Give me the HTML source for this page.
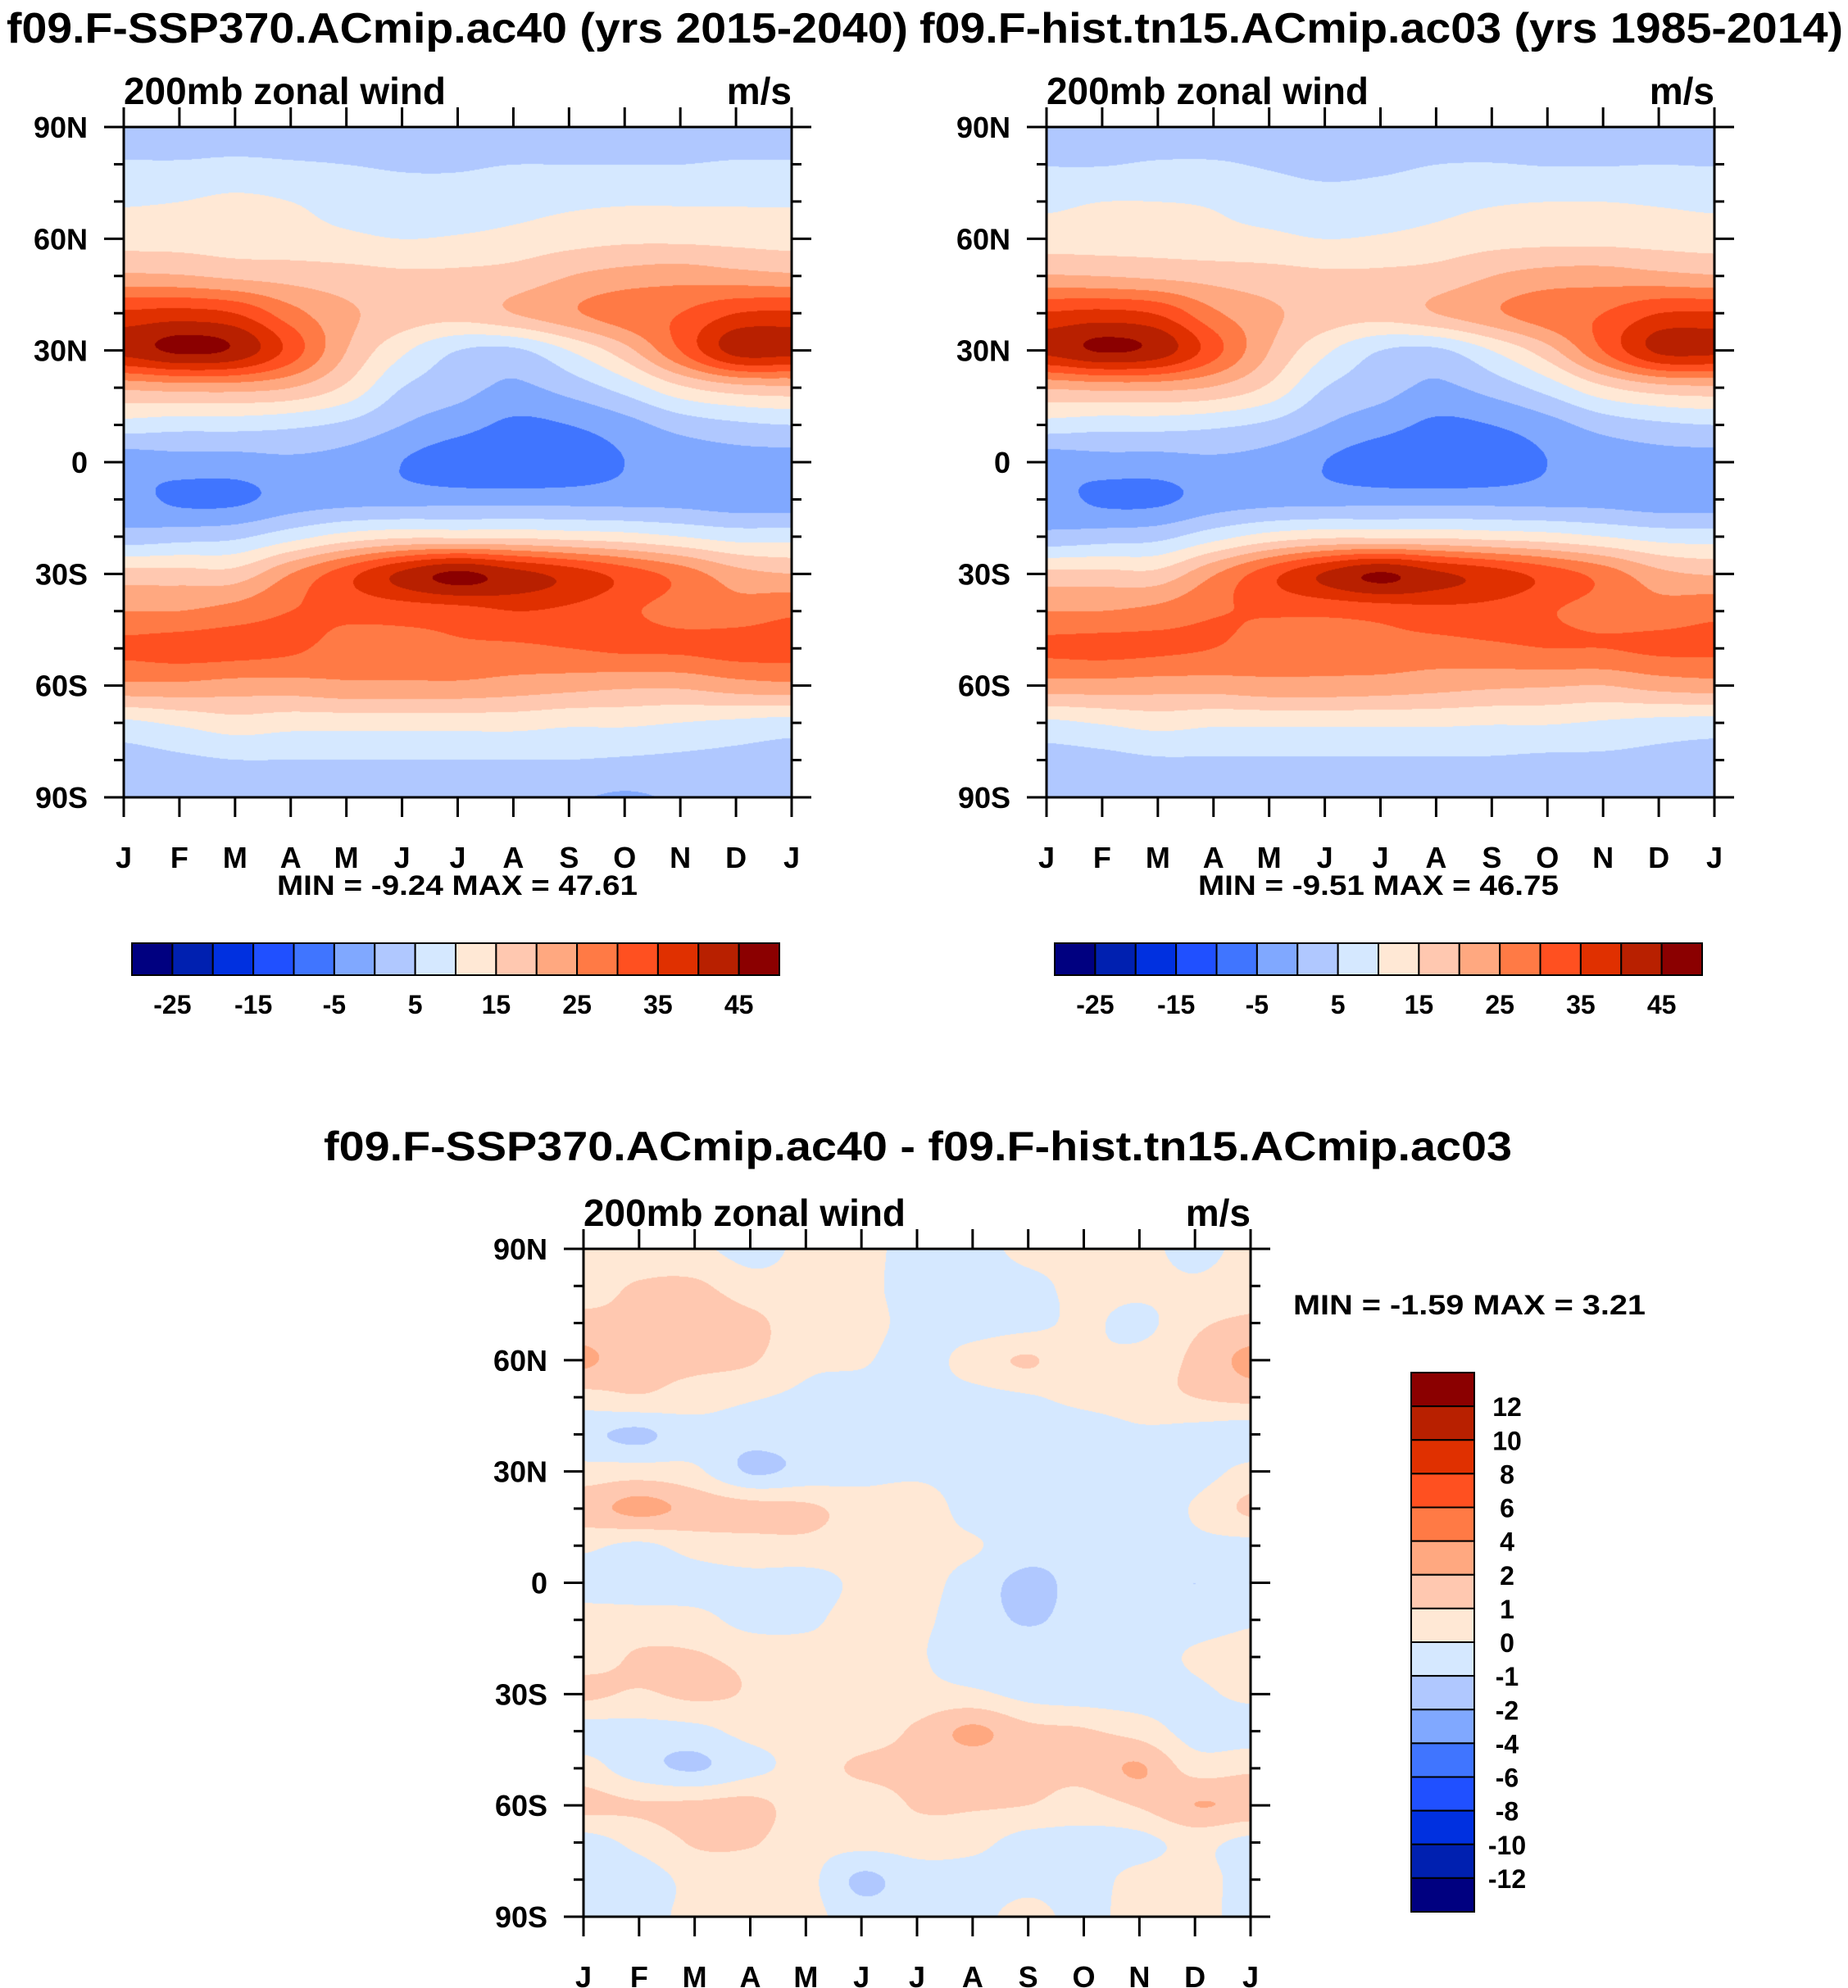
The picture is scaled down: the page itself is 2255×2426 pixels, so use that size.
<!DOCTYPE html>
<html><head><meta charset="utf-8">
<style>
html,body{margin:0;padding:0;background:#fff;}
#root{position:relative;width:2255px;height:2426px;overflow:hidden;font-family:"Liberation Sans",sans-serif;}
canvas{position:absolute;}
svg{position:absolute;left:0;top:0;}
text{font-family:"Liberation Sans",sans-serif;font-weight:bold;fill:#000;}
</style></head>
<body>
<div id="root">
<canvas id="c1"></canvas>
<canvas id="c2"></canvas>
<canvas id="c3"></canvas>
<svg id="ov" width="2255" height="2426"></svg>
</div>
<script>
const months = ["J","F","M","A","M","J","J","A","S","O","N","D","J"];
const latLabels = ["90N","60N","30N","0","30S","60S","90S"];
// rows: 90N -> 90S every 10 deg; cols: Jan..Jan
const ssp370 = [
[2,2,2,2,2,2,2,2,2,2,2,2,2],
[5.5,5.5,6,5.5,5,4.5,4.5,5,5,5,5,5.5,5.5],
[9.5,10,11,10,8,7,7,8,9,9.5,9.5,9.5,9.5],
[13,13,12.5,12,11,10,10.5,11.5,13,14,14,13.5,13],
[21,20.5,19,18,17,16,16,17,20,22,23,22,21],
[36,37,35,27,21,18,17,20,24,28,30,35,36],
[42,46,44,33,20,11,5,4,10,18,30,42,42],
[21,22,22,20,14,5,2,-1,2,7,14,18,19],
[8,7,7,6,4,0,-3,-6,-5,-2,2,4,5],
[-3,-2,-2,-1,-2,-5,-8,-9,-8,-5,-3,-2,-2],
[-3,-6,-6,-3,-2,-2,-2,-2,-2,-2,-2,-3,-3],
[2,3,4,8,12,14,14,14,13,12,10,8,8],
[17,17,17,25,33,41,46,42,38,33,28,22,20],
[25,25,27,30,31,32,33,35,34,31,28,27,29],
[31,32,32,31,28,28,29,29,30,31,31,32,32],
[24,24,23,23,24,24,24,23,22,21,21,23,24],
[9,11,13,12,12,12,12,12,11,11,10,9,8],
[3,4,5,5,5,5,5,5,5,4.5,4,3.5,3],
[1,1,1,1,1,1,1,1,0.5,-0.5,0.5,1,1]
];
const hist = [
[2,2,2,2,2,2,2,2,2,2,2,2,2],
[4.8,4.8,5.5,5.5,4.5,3.5,4,5,5.2,4.8,4.8,5,4.8],
[9,10,10,9.5,8,7,7.5,8.5,9.5,10,10,9.5,9],
[12.5,12.5,12.5,11.5,11,10,10.5,11.5,13,13.5,13.5,13,12.5],
[20.5,20,19,18,17,16,16,17,20,22,22.5,21.5,20.5],
[35.5,36.5,34.5,26,21,18,17,20,24,28,30,35,35.5],
[41.5,45.5,43,32,20,11,5,4,10,18,30,41,41.5],
[20.5,21.5,21.5,19.5,14,5,2,-1,2,7,14,18,19],
[8,7,7,6,4,0,-3,-6,-5,-2,2,4,5],
[-3,-2,-2,-1,-2,-5,-8,-9,-8,-5,-3,-2,-2],
[-3,-6,-6,-3,-2,-2,-2,-2,-2,-2,-2,-3,-3],
[1.5,2.5,3.5,8,12,14,14,14,13,12,10,8,7.5],
[16.5,16.5,16.5,24.5,33,40.5,45.5,41,37.5,33,28,21.5,19.5],
[25,25,26.5,29.5,30.5,31,32,33.5,33,30.5,28,27,28.5],
[31,31.5,31,30,27.5,27,28,28,29,30,30,31,31],
[23,23,22.5,22.5,23.5,23.5,23,22,21,20.5,20,22,23],
[9,10.5,12,11,11,11,11,11,10.5,10.5,9.5,8.5,8],
[3,3.5,4.5,4.5,4.5,4.5,4.5,4.5,4.5,4,4,3.5,3],
[1,1,1,1,1,1,1,1,0.8,0.6,0.8,1,1]
];
const diff = [
[0.3,0.3,0.2,-0.3,0.2,0.3,-0.4,-0.4,0.3,0.3,0.3,-0.3,0.3],
[0.6,1.1,1.2,0.4,0.3,0.3,-0.5,-0.6,-0.3,0.3,0.3,0.2,0.6],
[1.3,1.2,1.7,1.3,0.4,0.3,-0.3,-0.5,-0.3,0.2,-0.3,0.8,1.2],
[2.2,1.3,1.3,1.1,0.2,0.1,-0.4,0.4,1.1,0.2,0.4,1.2,2.3],
[0.6,0.9,0.5,0.1,-0.2,-0.4,-0.3,-0.3,-0.1,0.3,0.6,1.0,1.3],
[-0.8,-1.2,-0.4,-0.6,-0.5,-0.5,-0.3,-0.4,-0.6,-0.7,-0.2,-0.4,-0.6],
[0.4,0.5,0.2,-1.1,-0.7,-0.4,-0.2,-0.4,-0.2,-0.3,-0.2,-0.4,0.3],
[1.6,2.3,1.7,1.4,1.2,0.6,0.6,-0.4,-0.4,-0.5,-0.6,0.1,1.2],
[0.2,-0.2,0.4,0.6,0.7,0.4,0.3,0.1,-0.5,-0.6,-0.5,-0.3,-0.3],
[-0.4,-0.5,-0.4,-0.3,-0.4,0.2,0.3,-0.4,-1.3,-0.6,-0.5,-1.0,-0.5],
[0.4,0.4,0.3,-0.3,-0.2,0.4,0.2,-0.5,-1.1,-0.6,-0.4,-0.4,-0.1],
[0.6,1.1,1.1,0.7,0.4,0.3,0.1,-0.5,-0.4,-0.6,-0.4,0.1,0.3],
[1.2,0.9,1.2,0.9,0.4,0.3,0.3,0.2,-0.3,-0.5,-0.5,-0.2,0.2],
[-0.4,-0.4,-0.3,0.3,0.3,0.4,1.2,2.2,1.3,1.1,0.6,-0.4,-0.5],
[0.4,-0.6,-1.1,-0.3,0.4,1.2,1.3,1.3,1.2,1.3,2.1,0.6,0.8],
[1.3,1.1,1.2,1.3,0.5,0.3,1.1,1.1,1.0,0.6,1.1,2.0,1.8],
[-0.4,0.3,1.1,1.1,0.4,0.3,0.4,0.3,-0.4,-0.4,-0.3,0.3,-0.3],
[-0.4,-0.5,0.3,0.3,0.3,-1.2,-0.4,-0.4,-0.3,-0.4,0.3,0.4,-0.4],
[-0.3,-0.4,0.3,0.3,0.3,-0.5,-0.4,-0.3,0.3,-0.3,0.4,0.3,-0.3]
];
const levelsTop = [-25,-20,-15,-10,-5,0,5,10,15,20,25,30,35,40,45];
const levelsDiff = [-12,-10,-8,-6,-4,-2,-1,0,1,2,4,6,8,10,12];
const topTickLabels = ["-25","-15","-5","5","15","25","35","45"];
const colors = ["#000080","#0020b0","#0030e0","#2050ff","#4075ff","#80a8ff","#b0c8ff","#d5e8ff",
"#ffe8d5","#ffc8b0","#ffa880","#ff7a45","#ff5020","#e03000","#b82000","#8b0000"];

const NS='http://www.w3.org/2000/svg';
const ov=document.getElementById('ov');
function mk(tag,attrs,parent){const e=document.createElementNS(NS,tag);for(const k in attrs)e.setAttribute(k,attrs[k]);(parent||ov).appendChild(e);return e;}
function txt(s,x,y,size,anchor,name,tl){const t=mk('text',{x:x,y:y,'font-size':size,'text-anchor':anchor||'start'});


if(tl){t.setAttribute('textLength',tl);t.setAttribute('lengthAdjust','spacingAndGlyphs');}
t.textContent=s;return t;}

function cr(p0,p1,p2,p3,t){return 0.5*((2*p1)+(-p0+p2)*t+(2*p0-5*p1+4*p2-p3)*t*t+(-p0+3*p1-3*p2+p3)*t*t*t);}
function sample(g,r,c){const R=g.length,C=g[0].length;
 const r0=Math.floor(r),c0=Math.floor(c),tr=r-r0,tc=c-c0;
 const rows=[];for(let i=-1;i<=2;i++){const ri=Math.min(R-1,Math.max(0,r0+i));const row=g[ri];
  const cs=[];for(let j=-1;j<=2;j++){cs.push(row[Math.min(C-1,Math.max(0,c0+j))]);}
  rows.push(cr(cs[0],cs[1],cs[2],cs[3],tc));}
 return cr(rows[0],rows[1],rows[2],rows[3],tr);}
function colorIdx(v,lv){let i=0;while(i<lv.length&&v>=lv[i])i++;return i;}
function hex(h){return [parseInt(h.substr(1,2),16),parseInt(h.substr(3,2),16),parseInt(h.substr(5,2),16)];}
const rgb=colors.map(hex);

function drawField(id,g,lv,x0,y0,x1,y1){
 const cv=document.getElementById(id);const w=Math.round(x1-x0),h=Math.round(y1-y0);
 cv.width=w;cv.height=h;cv.style.left=x0+'px';cv.style.top=y0+'px';
 const ctx=cv.getContext('2d');const img=ctx.createImageData(w,h);
 const R=g.length-1,C=g[0].length-1;
 for(let y=0;y<h;y++){const r=y/(h-1)*R;for(let x=0;x<w;x++){const c=x/(w-1)*C;
  const v=sample(g,r,c);const k=colorIdx(v,lv);const p=(y*w+x)*4;const col=rgb[k];
  img.data[p]=col[0];img.data[p+1]=col[1];img.data[p+2]=col[2];img.data[p+3]=255;}}
 ctx.putImageData(img,0,0);}

function axes(x0,y0,x1,y1,pfx){
 const g=mk('g',{});
 const sw=3;
 mk('rect',{x:x0,y:y0,width:x1-x0,height:y1-y0,fill:'none',stroke:'#000','stroke-width':sw},g);
 const dx=(x1-x0)/12,dy=(y1-y0)/18;
 for(let i=0;i<13;i++){const x=x0+i*dx;
  mk('line',{x1:x,y1:y0,x2:x,y2:y0-24,stroke:'#000','stroke-width':sw},g);
  mk('line',{x1:x,y1:y1,x2:x,y2:y1+24,stroke:'#000','stroke-width':sw},g);
  txt(months[i],x,y1+86,36,'middle',pfx+'-x-label-'+i);}
 for(let j=0;j<19;j++){const y=y0+j*dy;const maj=j%3===0;const L=maj?24:12;
  mk('line',{x1:x0,y1:y,x2:x0-L,y2:y,stroke:'#000','stroke-width':sw},g);
  mk('line',{x1:x1,y1:y,x2:x1+L,y2:y,stroke:'#000','stroke-width':sw},g);
  if(maj)txt(latLabels[j/3],x0-44,y+13,36,'end',pfx+'-y-label-'+j/3);}
 txt('200mb zonal wind',x0,y0-28,46,'start',pfx+'-subtitle',393);
 txt('m/s',x1,y0-28,46,'end',pfx+'-units');
}
function hbar(x0,y0,x1,y1,pfx){const n=colors.length,w=(x1-x0)/n;
 for(let i=0;i<n;i++){const r=mk('rect',{x:x0+i*w,y:y0,width:w,height:y1-y0,fill:colors[i],stroke:'#000','stroke-width':2});
  }
 for(let k=0;k<topTickLabels.length;k++){const x=x0+(1+2*k)*w;txt(topTickLabels[k],x,y1+47,32,'middle',pfx+'-colorbar-label');}}
function vbar(x0,y0,x1,y1){const n=colors.length,h=(y1-y0)/n;
 for(let i=0;i<n;i++){const r=mk('rect',{x:x0,y:y0+i*h,width:x1-x0,height:h,fill:colors[n-1-i],stroke:'#000','stroke-width':2});
  }
 for(let k=0;k<levelsDiff.length;k++){const y=y0+(k+1)*h;txt(String(levelsDiff[levelsDiff.length-1-k]),x1+40,y+12,32,'middle','diff-colorbar-label');}}

const P1=[151,155,966,973],P2=[1277,155,2092,973],P3=[712,1524,1526,2339];
drawField('c1',ssp370,levelsTop,...P1);
drawField('c2',hist,levelsTop,...P2);
drawField('c3',diff,levelsDiff,...P3);
axes(...P1,'ssp370');axes(...P2,'hist');axes(...P3,'diff');
txt('f09.F-SSP370.ACmip.ac40 (yrs 2015-2040)',8,52,52,'start','ssp370-title',1100);
txt('f09.F-hist.tn15.ACmip.ac03 (yrs 1985-2014)',1122,52,52,'start','hist-title',1127);
txt('MIN =  -9.24 MAX =  47.61',558,1092,34,'middle','ssp370-min-max',440);
txt('MIN =  -9.51 MAX =  46.75',1682,1092,34,'middle','hist-min-max',440);
hbar(161,1151,951,1190,'ssp370');hbar(1287,1151,2077,1190,'hist');
txt('f09.F-SSP370.ACmip.ac40 - f09.F-hist.tn15.ACmip.ac03',1120,1416,50,'middle','diff-title',1450);
txt('MIN =  -1.59 MAX =   3.21',1578,1604,34,'start','diff-min-max',430);
vbar(1722,1675,1799,2333);
</script>
</body></html>
